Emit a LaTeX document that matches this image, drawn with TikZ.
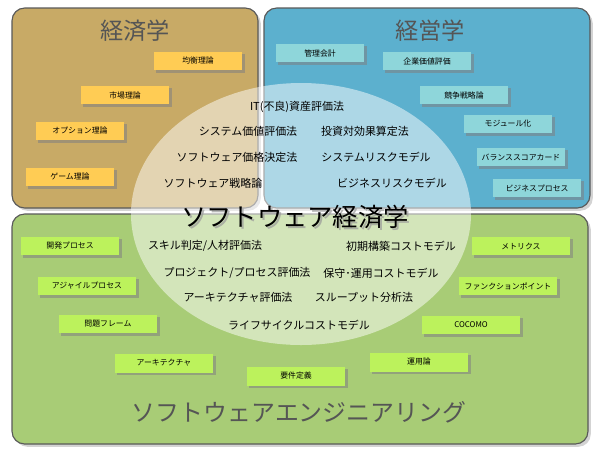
\documentclass[tikz,border=0pt]{standalone}
\usepackage{fontspec}
\setmainfont{Noto Sans CJK JP}
\usetikzlibrary{shadows}

\definecolor{econpanel}{RGB}{200,170,102}
\definecolor{mgmtpanel}{RGB}{92,176,206}
\definecolor{sepanel}{RGB}{168,204,118}
\definecolor{econfill}{RGB}{255,204,84}
\definecolor{mgmtfill}{RGB}{142,214,218}
\definecolor{sefill}{RGB}{188,242,92}
\definecolor{titlegray}{RGB}{85,85,85}

\begin{document}
\begin{tikzpicture}[x=0.025cm, y=-0.025cm,
    panel/.style={draw=black!65, line width=0.8pt, rounded corners=9pt,
        drop shadow={shadow xshift=2pt, shadow yshift=-2pt, opacity=0.35}},
    tagbox/.style={minimum width=63pt, minimum height=13.5pt, inner sep=0pt,
        font=\fontsize{5.6}{6}\selectfont,
        drop shadow={shadow xshift=1.8pt, shadow yshift=-2pt, opacity=0.55}},
    econbox/.style={tagbox, fill=econfill},
    mgmtbox/.style={tagbox, fill=mgmtfill},
    sebox/.style={tagbox, fill=sefill, minimum width=70pt},
    term/.style={font=\fontsize{7.8}{9}\selectfont, inner sep=1pt},
    paneltitle/.style={text=titlegray, font=\fontsize{16.5}{18}\selectfont}]
    \useasboundingbox (0,0) rectangle (600,456);

    % panels
    \draw[panel, fill=econpanel] (12,8) rectangle (258,208);
    \draw[panel, fill=mgmtpanel] (264,8) rectangle (590,208);
    \draw[panel, fill=sepanel] (12,214) rectangle (588,444);

    % overlap area
    \fill[white, opacity=0.5] (301,214) ellipse [x radius=170, y radius=131];

    % titles
    \node[paneltitle] (econ) at (135,31) {経済学};
    \node[paneltitle] (mgmt) at (430,31) {経営学};
    \node[paneltitle, font=\fontsize{17}{19}\selectfont] (se) at (299,412) {ソフトウェアエンジニアリング};
    \node[font=\fontsize{18}{20}\selectfont, text=black!40, opacity=0.7] at (297,219) {ソフトウェア経済学};
    \node[font=\fontsize{18}{20}\selectfont] (swe) at (295,217) {ソフトウェア経済学};

    % economics
    \node[econbox] (kinko) at (198,61) {均衡理論};
    \node[econbox] (shijo) at (125,95) {市場理論};
    \node[econbox] (option) at (80,131) {オプション理論};
    \node[econbox] (game) at (70,177) {ゲーム理論};

    % management
    \node[mgmtbox] (kanri) at (320,53) {管理会計};
    \node[mgmtbox] (kigyo) at (427,61) {企業価値評価};
    \node[mgmtbox] (kyoso) at (464,95) {競争戦略論};
    \node[mgmtbox] (module) at (508,124) {モジュール化};
    \node[mgmtbox] (bsc) at (521,157) {バランススコアカード};
    \node[mgmtbox] (bp) at (537,188) {ビジネスプロセス};

    % software engineering
    \node[sebox] (kaihatsu) at (70,246) {開発プロセス};
    \node[sebox] (agile) at (87,286) {アジャイルプロセス};
    \node[sebox] (frame) at (108,324) {問題フレーム};
    \node[sebox] (arch) at (164,363) {アーキテクチャ};
    \node[sebox] (yoken) at (296,376) {要件定義};
    \node[sebox] (unyo) at (419,362) {運用論};
    \node[sebox] (cocomo) at (471,325) {COCOMO};
    \node[sebox] (fp) at (508,286) {ファンクションポイント};
    \node[sebox] (metrics) at (521,246) {メトリクス};

    % software economics terms
    \node[term] (itasset) at (297,107) {IT(不良)資産評価法};
    \node[term] (sysval) at (248,131) {システム価値評価法};
    \node[term] (roi) at (365,131) {投資対効果算定法};
    \node[term] (price) at (237,157) {ソフトウェア価格決定法};
    \node[term] (sysrisk) at (376,157) {システムリスクモデル};
    \node[term] (strategy) at (213,183) {ソフトウェア戦略論};
    \node[term] (bizrisk) at (392,183) {ビジネスリスクモデル};
    \node[term] (skill) at (205,246) {スキル判定/人材評価法};
    \node[term] (initcost) at (401,246) {初期構築コストモデル};
    \node[term] (project) at (237,273) {プロジェクト/プロセス評価法};
    \node[term] (maint) at (381,273) {保守･運用コストモデル};
    \node[term] (archeval) at (238,297) {アーキテクチャ評価法};
    \node[term] (through) at (364,297) {スループット分析法};
    \node[term] (lifecycle) at (299,325) {ライフサイクルコストモデル};
\end{tikzpicture}
\end{document}
